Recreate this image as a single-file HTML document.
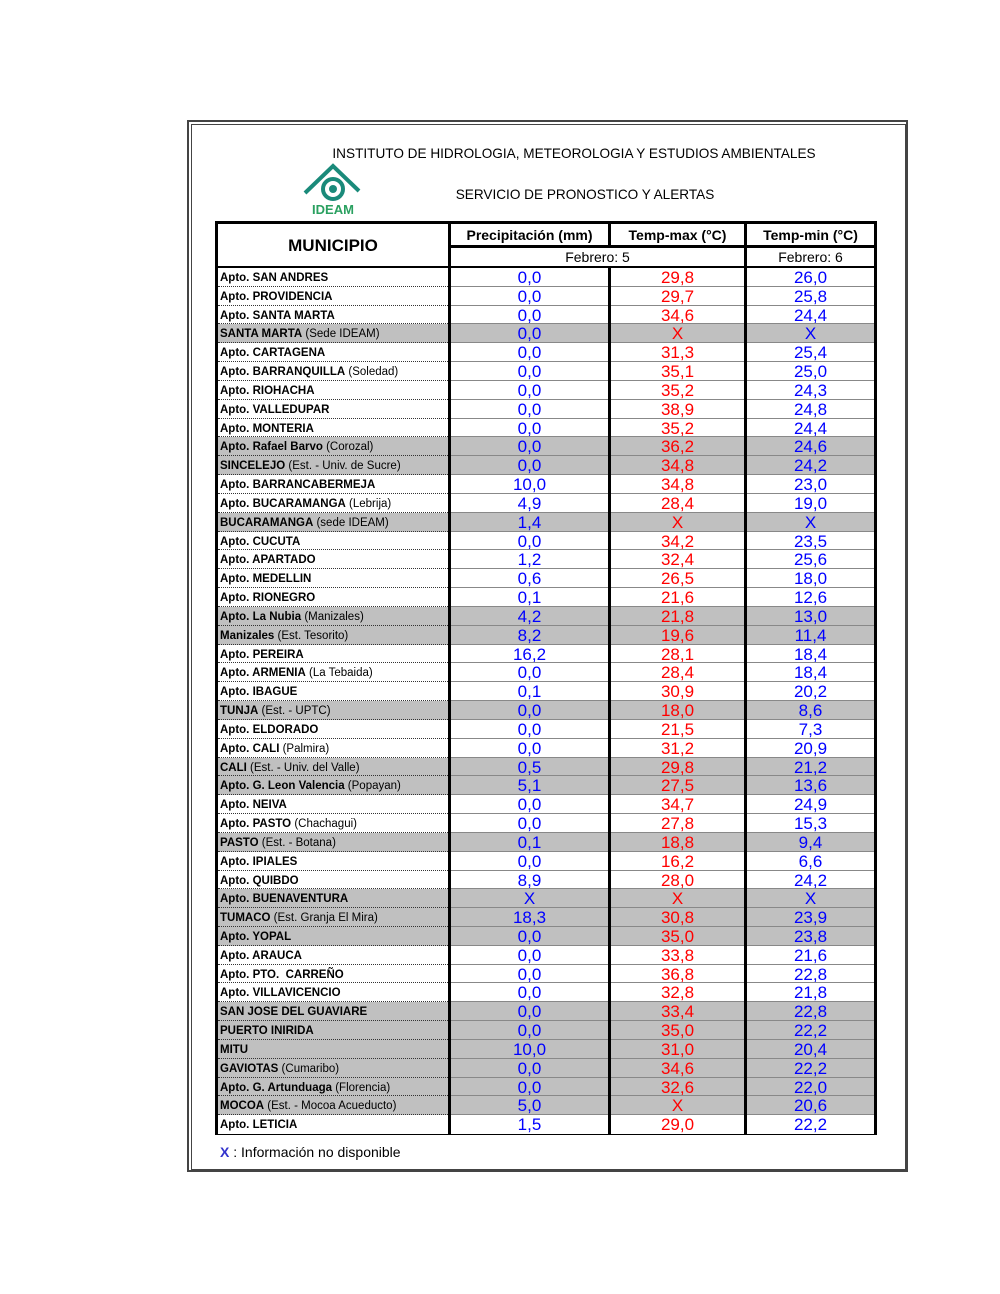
<!DOCTYPE html>
<html><head><meta charset="utf-8"><style>
body{margin:0;width:1000px;height:1294px;background:#fff;font-family:"Liberation Sans",sans-serif;position:relative;overflow:hidden}
.fo{position:absolute;left:187px;top:120px;width:717px;height:1048px;border:2px solid #444}
.fi{position:absolute;left:191px;top:124px;width:713px;height:1044px;border:1px solid #444}
.t1{position:absolute;left:0;width:1148px;top:146px;text-align:center;font-size:13.6px;letter-spacing:0}
.tb{position:absolute;left:215px;top:221px;width:662px;height:914px;background:#000}
.c{position:absolute;background:#fff;text-align:center}
.data{position:absolute;left:3px;top:47px;width:656px;height:866px;display:flex;flex-direction:column}
.r{height:18.83px;display:flex;flex:none}
.r div{background:#fff;box-sizing:border-box;height:18.83px;line-height:20px;overflow:hidden;white-space:nowrap}
.r.g div{background:#c0c0c0}
.m{width:230px;font-size:11.5px;padding-left:2px;border-bottom:1px dotted #333}
.m b{font-weight:bold}
.p,.x,.n{text-align:center;font-size:17px;border-bottom:1px solid #888}
.p{width:157px;margin-left:3px;color:#00f}
.x{width:133px;margin-left:3px;color:#f00}
.n{width:127px;margin-left:3px;color:#00f}
.r:last-child div{border-bottom:none}
</style></head><body>
<div class="fo"></div><div class="fi"></div>
<div class="t1" style="left:0;width:1148px">INSTITUTO DE HIDROLOGIA, METEOROLOGIA Y ESTUDIOS AMBIENTALES</div>
<div class="t1" style="top:187px;left:0;width:1170px">SERVICIO DE PRONOSTICO Y ALERTAS</div>
<svg style="position:absolute;left:303px;top:163px" width="60" height="55">
<path d="M2 30 L30 3 L56 28" fill="none" stroke="#1a8a7a" stroke-width="4"/>
<circle cx="30" cy="26" r="10" fill="none" stroke="#1a8a7a" stroke-width="4"/>
<circle cx="30" cy="26" r="4" fill="#1a8a7a"/>
<text x="30" y="51" text-anchor="middle" font-family="Liberation Sans" font-weight="bold" font-size="13" fill="#2aa060">IDEAM</text>
</svg>
<div class="tb">
<div class="c" style="left:3px;top:3px;width:230px;height:42px;line-height:44px;font-weight:bold;font-size:17px">MUNICIPIO</div>
<div class="c" style="left:236px;top:3px;width:157px;height:21px;line-height:22px;font-weight:bold;font-size:14px">Precipitación (mm)</div>
<div class="c" style="left:396px;top:3px;width:133px;height:21px;line-height:22px;font-weight:bold;font-size:14px">Temp-max (°C)</div>
<div class="c" style="left:532px;top:3px;width:127px;height:21px;line-height:22px;font-weight:bold;font-size:14px">Temp-min (°C)</div>
<div class="c" style="left:236px;top:27px;width:293px;height:18px;line-height:19px;font-size:14px">Febrero: 5</div>
<div class="c" style="left:532px;top:27px;width:127px;height:18px;line-height:19px;font-size:14px">Febrero: 6</div>
<div class="data">
<div class="r"><div class="m"><b>Apto. SAN ANDRES</b></div><div class="p">0,0</div><div class="x">29,8</div><div class="n">26,0</div></div>
<div class="r"><div class="m"><b>Apto. PROVIDENCIA</b></div><div class="p">0,0</div><div class="x">29,7</div><div class="n">25,8</div></div>
<div class="r"><div class="m"><b>Apto. SANTA MARTA</b></div><div class="p">0,0</div><div class="x">34,6</div><div class="n">24,4</div></div>
<div class="r g"><div class="m"><b>SANTA MARTA</b> (Sede IDEAM)</div><div class="p">0,0</div><div class="x">X</div><div class="n">X</div></div>
<div class="r"><div class="m"><b>Apto. CARTAGENA</b></div><div class="p">0,0</div><div class="x">31,3</div><div class="n">25,4</div></div>
<div class="r"><div class="m"><b>Apto. BARRANQUILLA</b> (Soledad)</div><div class="p">0,0</div><div class="x">35,1</div><div class="n">25,0</div></div>
<div class="r"><div class="m"><b>Apto. RIOHACHA</b></div><div class="p">0,0</div><div class="x">35,2</div><div class="n">24,3</div></div>
<div class="r"><div class="m"><b>Apto. VALLEDUPAR</b></div><div class="p">0,0</div><div class="x">38,9</div><div class="n">24,8</div></div>
<div class="r"><div class="m"><b>Apto. MONTERIA</b></div><div class="p">0,0</div><div class="x">35,2</div><div class="n">24,4</div></div>
<div class="r g"><div class="m"><b>Apto. Rafael Barvo</b> (Corozal)</div><div class="p">0,0</div><div class="x">36,2</div><div class="n">24,6</div></div>
<div class="r g"><div class="m"><b>SINCELEJO</b> (Est. - Univ. de Sucre)</div><div class="p">0,0</div><div class="x">34,8</div><div class="n">24,2</div></div>
<div class="r"><div class="m"><b>Apto. BARRANCABERMEJA</b></div><div class="p">10,0</div><div class="x">34,8</div><div class="n">23,0</div></div>
<div class="r"><div class="m"><b>Apto. BUCARAMANGA</b> (Lebrija)</div><div class="p">4,9</div><div class="x">28,4</div><div class="n">19,0</div></div>
<div class="r g"><div class="m"><b>BUCARAMANGA</b> (sede IDEAM)</div><div class="p">1,4</div><div class="x">X</div><div class="n">X</div></div>
<div class="r"><div class="m"><b>Apto. CUCUTA</b></div><div class="p">0,0</div><div class="x">34,2</div><div class="n">23,5</div></div>
<div class="r"><div class="m"><b>Apto. APARTADO</b></div><div class="p">1,2</div><div class="x">32,4</div><div class="n">25,6</div></div>
<div class="r"><div class="m"><b>Apto. MEDELLIN</b></div><div class="p">0,6</div><div class="x">26,5</div><div class="n">18,0</div></div>
<div class="r"><div class="m"><b>Apto. RIONEGRO</b></div><div class="p">0,1</div><div class="x">21,6</div><div class="n">12,6</div></div>
<div class="r g"><div class="m"><b>Apto. La Nubia</b> (Manizales)</div><div class="p">4,2</div><div class="x">21,8</div><div class="n">13,0</div></div>
<div class="r g"><div class="m"><b>Manizales</b> (Est. Tesorito)</div><div class="p">8,2</div><div class="x">19,6</div><div class="n">11,4</div></div>
<div class="r"><div class="m"><b>Apto. PEREIRA</b></div><div class="p">16,2</div><div class="x">28,1</div><div class="n">18,4</div></div>
<div class="r"><div class="m"><b>Apto. ARMENIA</b> (La Tebaida)</div><div class="p">0,0</div><div class="x">28,4</div><div class="n">18,4</div></div>
<div class="r"><div class="m"><b>Apto. IBAGUE</b></div><div class="p">0,1</div><div class="x">30,9</div><div class="n">20,2</div></div>
<div class="r g"><div class="m"><b>TUNJA</b> (Est. - UPTC)</div><div class="p">0,0</div><div class="x">18,0</div><div class="n">8,6</div></div>
<div class="r"><div class="m"><b>Apto. ELDORADO</b></div><div class="p">0,0</div><div class="x">21,5</div><div class="n">7,3</div></div>
<div class="r"><div class="m"><b>Apto. CALI</b> (Palmira)</div><div class="p">0,0</div><div class="x">31,2</div><div class="n">20,9</div></div>
<div class="r g"><div class="m"><b>CALI</b> (Est. - Univ. del Valle)</div><div class="p">0,5</div><div class="x">29,8</div><div class="n">21,2</div></div>
<div class="r g"><div class="m"><b>Apto. G. Leon Valencia</b> (Popayan)</div><div class="p">5,1</div><div class="x">27,5</div><div class="n">13,6</div></div>
<div class="r"><div class="m"><b>Apto. NEIVA</b></div><div class="p">0,0</div><div class="x">34,7</div><div class="n">24,9</div></div>
<div class="r"><div class="m"><b>Apto. PASTO</b> (Chachagui)</div><div class="p">0,0</div><div class="x">27,8</div><div class="n">15,3</div></div>
<div class="r g"><div class="m"><b>PASTO</b> (Est. - Botana)</div><div class="p">0,1</div><div class="x">18,8</div><div class="n">9,4</div></div>
<div class="r"><div class="m"><b>Apto. IPIALES</b></div><div class="p">0,0</div><div class="x">16,2</div><div class="n">6,6</div></div>
<div class="r"><div class="m"><b>Apto. QUIBDO</b></div><div class="p">8,9</div><div class="x">28,0</div><div class="n">24,2</div></div>
<div class="r g"><div class="m"><b>Apto. BUENAVENTURA</b></div><div class="p">X</div><div class="x">X</div><div class="n">X</div></div>
<div class="r g"><div class="m"><b>TUMACO</b> (Est. Granja El Mira)</div><div class="p">18,3</div><div class="x">30,8</div><div class="n">23,9</div></div>
<div class="r g"><div class="m"><b>Apto. YOPAL</b></div><div class="p">0,0</div><div class="x">35,0</div><div class="n">23,8</div></div>
<div class="r"><div class="m"><b>Apto. ARAUCA</b></div><div class="p">0,0</div><div class="x">33,8</div><div class="n">21,6</div></div>
<div class="r"><div class="m"><b>Apto. PTO.&nbsp; CARREÑO</b></div><div class="p">0,0</div><div class="x">36,8</div><div class="n">22,8</div></div>
<div class="r"><div class="m"><b>Apto. VILLAVICENCIO</b></div><div class="p">0,0</div><div class="x">32,8</div><div class="n">21,8</div></div>
<div class="r g"><div class="m"><b>SAN JOSE DEL GUAVIARE</b></div><div class="p">0,0</div><div class="x">33,4</div><div class="n">22,8</div></div>
<div class="r g"><div class="m"><b>PUERTO INIRIDA</b></div><div class="p">0,0</div><div class="x">35,0</div><div class="n">22,2</div></div>
<div class="r g"><div class="m"><b>MITU</b></div><div class="p">10,0</div><div class="x">31,0</div><div class="n">20,4</div></div>
<div class="r g"><div class="m"><b>GAVIOTAS</b> (Cumaribo)</div><div class="p">0,0</div><div class="x">34,6</div><div class="n">22,2</div></div>
<div class="r g"><div class="m"><b>Apto. G. Artunduaga</b> (Florencia)</div><div class="p">0,0</div><div class="x">32,6</div><div class="n">22,0</div></div>
<div class="r g"><div class="m"><b>MOCOA</b> (Est. - Mocoa Acueducto)</div><div class="p">5,0</div><div class="x">X</div><div class="n">20,6</div></div>
<div class="r"><div class="m"><b>Apto. LETICIA</b></div><div class="p">1,5</div><div class="x">29,0</div><div class="n">22,2</div></div>
</div></div>
<div style="position:absolute;left:220px;top:1144px;font-size:14px"><b style="color:#33c">X</b> : Información no disponible</div>
</body></html>
